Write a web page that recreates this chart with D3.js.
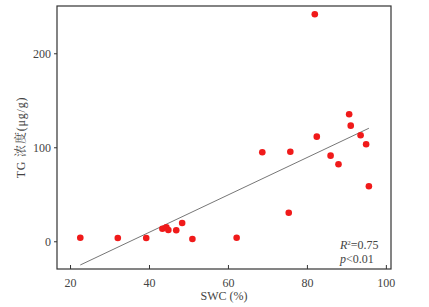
<!DOCTYPE html>
<html><head><meta charset="utf-8">
<script src="https://cdn.jsdelivr.net/npm/d3@7"></script>
<style>body{margin:0;background:#fff}svg{display:block}</style>
</head><body>
<svg id="c" width="429" height="307"></svg>
<script>
const swc = [22.6,32.1,39.3,43.4,44.4,44.9,46.9,48.4,51.0,62.2,68.7,75.4,75.8,82.0,82.5,86.0,88.0,90.7,91.1,93.6,95.0,95.7];
const tg  = [3.8,3.5,3.5,13.4,14.9,12.0,11.7,19.5,2.4,3.8,94.7,30.4,95.3,241.5,111.3,91.1,81.9,135.1,123.0,112.8,103.2,58.5];
const fitSlope = 1.99, fitIntercept = -70.2;
const xTicks = [20,40,60,80,100];
const yTicks = [0,100,200];
const xTitle = "SWC (%)";
const yTitle = "TG 浓度(μg/g)";

const svg = d3.select("#c");
const L=57,R=391,T=6,B=269;
const x = d3.scaleLinear().domain([16.7,101.3]).range([L,R]);
const y = d3.scaleLinear().domain([-29.5,250.3]).range([B,T]);
const font = "'Liberation Serif','Times New Roman','Noto Serif CJK SC','Noto Sans CJK SC',serif";

// frame
svg.append("rect").attr("x",L).attr("y",T).attr("width",R-L).attr("height",B-T)
  .attr("fill","none").attr("stroke","#333").attr("stroke-width",1.2);

const xa = svg.append("g").attr("transform",`translate(0,${B})`)
  .call(d3.axisBottom(x).tickValues(xTicks).tickSizeInner(-4).tickSizeOuter(0).tickPadding(9));
const ya = svg.append("g").attr("transform",`translate(${L},0)`)
  .call(d3.axisLeft(y).tickValues(yTicks).tickSize(3).tickSizeOuter(0).tickPadding(3));
[xa,ya].forEach(a=>{
  a.select(".domain").remove();
  a.selectAll("line").attr("stroke","#333");
  a.selectAll("text").attr("fill","#444").style("font-family",font).style("font-size","12px");
});

// regression line
const xe = d3.extent(swc);
svg.append("line")
  .attr("x1",x(xe[0])).attr("y1",y(fitIntercept+fitSlope*xe[0]))
  .attr("x2",x(xe[1])).attr("y2",y(fitIntercept+fitSlope*xe[1]))
  .attr("stroke","#666").attr("stroke-width",0.9);

// points
svg.append("g").selectAll("circle").data(swc).join("circle")
  .attr("cx",(d)=>x(d)).attr("cy",(d,i)=>y(tg[i])).attr("r",3.3).attr("fill","#f01a1a");

// titles
svg.append("text").attr("x",(L+R)/2).attr("y",299.5).attr("text-anchor","middle")
  .attr("fill","#444").style("font-family",font).style("font-size","12px").text(xTitle);
svg.append("text").attr("transform",`translate(25,${(T+B)/2}) rotate(-90)`).attr("text-anchor","middle")
  .attr("fill","#444").style("font-family",font).style("font-size","12px").style("letter-spacing","0.8px").text(yTitle);

// annotation
const a1 = svg.append("text").attr("x",340).attr("y",249).attr("fill","#444")
  .style("font-family",font).style("font-size","12px");
a1.append("tspan").attr("font-style","italic").text("R");
a1.append("tspan").attr("dy",-4).style("font-size","7px").text("2");
a1.append("tspan").attr("dy",4).text("=0.75");
const a2 = svg.append("text").attr("x",340).attr("y",262.5).attr("fill","#444")
  .style("font-family",font).style("font-size","12px");
a2.append("tspan").attr("font-style","italic").text("p");
a2.append("tspan").text("<0.01");
</script>
</body></html>
